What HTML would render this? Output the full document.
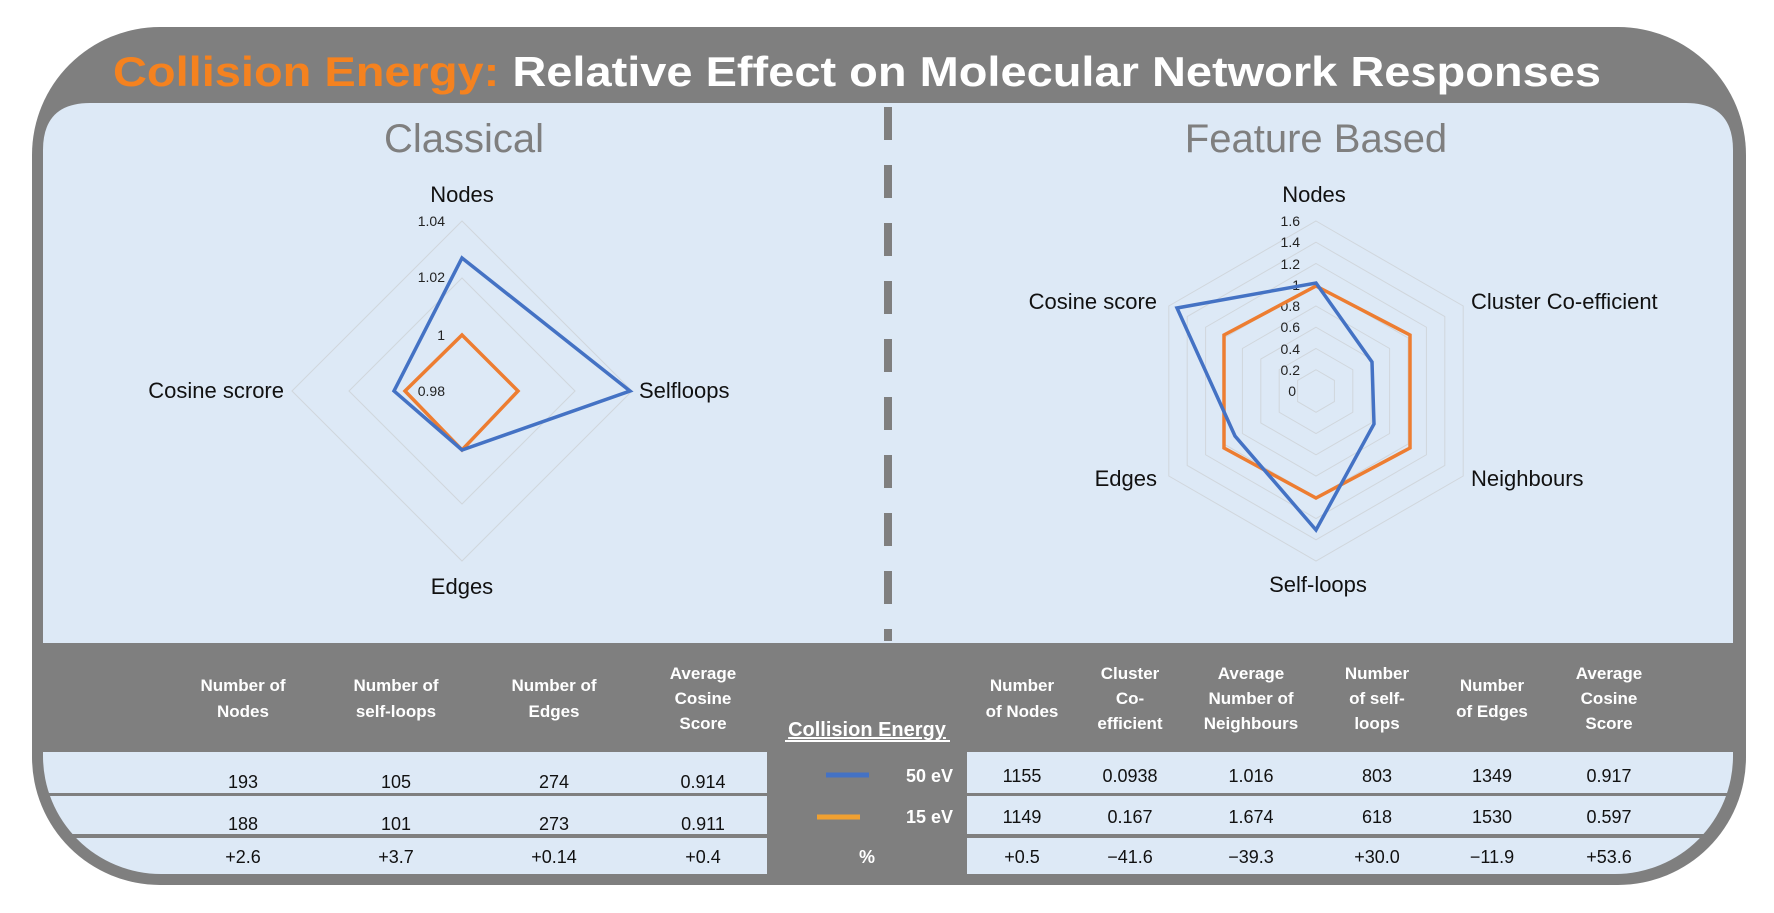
<!DOCTYPE html>
<html><head><meta charset="utf-8"><style>html,body{margin:0;padding:0;background:#fff}svg{display:block}</style></head>
<body>
<svg width="1774" height="913" viewBox="0 0 1774 913" xmlns="http://www.w3.org/2000/svg" font-family="'Liberation Sans', sans-serif">
<defs>
<clipPath id="inner"><rect x="43" y="500" width="1690" height="374" rx="118" ry="118"/></clipPath>
</defs>
<rect x="32" y="27" width="1714" height="858" rx="128" ry="128" fill="#7f7f7f"/>
<path d="M43,643 L43,150 Q43,103 90,103 L1686,103 Q1733,103 1733,150 L1733,643 Z" fill="#dde9f6"/>
<g clip-path="url(#inner)">
<rect x="43" y="752" width="724" height="41" fill="#dde9f6"/>
<rect x="43" y="796" width="724" height="38" fill="#dde9f6"/>
<rect x="43" y="838" width="724" height="36" fill="#dde9f6"/>
<rect x="967" y="752" width="770" height="41" fill="#dde9f6"/>
<rect x="967" y="796" width="770" height="38" fill="#dde9f6"/>
<rect x="967" y="838" width="770" height="36" fill="#dde9f6"/>
</g>
<text x="113" y="86" font-size="42" font-weight="bold" textLength="1488" lengthAdjust="spacingAndGlyphs"><tspan fill="#f5821f">Collision Energy:</tspan><tspan fill="#fff"> Relative Effect on Molecular Network Responses</tspan></text>
<line x1="888" y1="107" x2="888" y2="641" stroke="#7f7f7f" stroke-width="8" stroke-dasharray="33 25"/>
<text x="464" y="152" font-size="40" fill="#7f7f7f" text-anchor="middle">Classical</text>
<text x="1316" y="152" font-size="40" fill="#7f7f7f" text-anchor="middle">Feature Based</text>
<g fill="none" stroke="#d0d6dc" stroke-width="1">
<polygon points="462,334 519,391 462,448 405,391"/>
<polygon points="462,278 575,391 462,504 349,391"/>
<polygon points="462,221 632,391 462,561 292,391"/>
</g>
<g font-size="14" fill="#222" text-anchor="end">
<text x="445" y="226">1.04</text><text x="445" y="282">1.02</text><text x="445" y="340">1</text><text x="445" y="396">0.98</text>
</g>
<polygon points="462,335 518,391 462,450 405,391" fill="none" stroke="#ed7d31" stroke-width="3.5"/>
<polygon points="462,258 630,391 462,450 394,391" fill="none" stroke="#4472c4" stroke-width="3.5"/>
<g font-size="22" fill="#111">
<text x="462" y="202" text-anchor="middle">Nodes</text>
<text x="639" y="398">Selfloops</text>
<text x="462" y="594" text-anchor="middle">Edges</text>
<text x="284" y="398" text-anchor="end">Cosine scrore</text>
</g>
<g fill="none" stroke="#d0d6dc" stroke-width="1">
<polygon points="1316,369.75 1334.4,380.4 1334.4,401.6 1316,412.25 1297.6,401.6 1297.6,380.4"/>
<polygon points="1316,348.5 1352.8,369.75 1352.8,412.25 1316,433.5 1279.2,412.25 1279.2,369.75"/>
<polygon points="1316,327.25 1371.2,359.1 1371.2,422.9 1316,454.75 1260.8,422.9 1260.8,359.1"/>
<polygon points="1316,306 1389.6,348.5 1389.6,433.5 1316,476 1242.4,433.5 1242.4,348.5"/>
<polygon points="1316,284.75 1408,337.9 1408,444.1 1316,497.25 1224,444.1 1224,337.9"/>
<polygon points="1316,263.5 1426.4,327.25 1426.4,454.75 1316,518.5 1205.6,454.75 1205.6,327.25"/>
<polygon points="1316,242.25 1444.8,316.6 1444.8,465.4 1316,539.75 1187.2,465.4 1187.2,316.6"/>
<polygon points="1316,221 1463.2,306 1463.2,476 1316,561 1168.8,476 1168.8,306"/>
</g>
<g font-size="14" fill="#222" text-anchor="end">
<text x="1300" y="226">1.6</text><text x="1300" y="247">1.4</text><text x="1300" y="269">1.2</text><text x="1300" y="290">1</text><text x="1300" y="311">0.8</text><text x="1300" y="332">0.6</text><text x="1300" y="354">0.4</text><text x="1300" y="375">0.2</text><text x="1296" y="396">0</text>
</g>
<polygon points="1316,286 1410,335 1410,448 1316,498 1224,448 1224,335" fill="none" stroke="#ed7d31" stroke-width="3.5"/>
<polygon points="1316,283 1372,362 1374,424 1316,530 1235,436 1177,308" fill="none" stroke="#4472c4" stroke-width="3.5"/>
<g font-size="22" fill="#111">
<text x="1314" y="202" text-anchor="middle">Nodes</text>
<text x="1471" y="309">Cluster Co-efficient</text>
<text x="1471" y="486">Neighbours</text>
<text x="1318" y="592" text-anchor="middle">Self-loops</text>
<text x="1157" y="486" text-anchor="end">Edges</text>
<text x="1157" y="309" text-anchor="end">Cosine score</text>
</g>
<g font-size="17" font-weight="bold" fill="#fff" text-anchor="middle">
<text x="243" y="691">Number of</text><text x="243" y="717">Nodes</text>
<text x="396" y="691">Number of</text><text x="396" y="717">self-loops</text>
<text x="554" y="691">Number of</text><text x="554" y="717">Edges</text>
<text x="703" y="679">Average</text><text x="703" y="704">Cosine</text><text x="703" y="729">Score</text>
<text x="1022" y="691">Number</text><text x="1022" y="717">of Nodes</text>
<text x="1130" y="679">Cluster</text><text x="1130" y="704">Co-</text><text x="1130" y="729">efficient</text>
<text x="1251" y="679">Average</text><text x="1251" y="704">Number of</text><text x="1251" y="729">Neighbours</text>
<text x="1377" y="679">Number</text><text x="1377" y="704">of self-</text><text x="1377" y="729">loops</text>
<text x="1492" y="691">Number</text><text x="1492" y="717">of Edges</text>
<text x="1609" y="679">Average</text><text x="1609" y="704">Cosine</text><text x="1609" y="729">Score</text>
<text x="867" y="736" font-size="20" text-decoration="underline">Collision Energy</text>
</g>
<line x1="785" y1="741" x2="950" y2="741" stroke="#fff" stroke-width="2"/>
<line x1="826" y1="775" x2="869" y2="775" stroke="#4472c4" stroke-width="5"/>
<line x1="817" y1="817" x2="860" y2="817" stroke="#f0a030" stroke-width="5"/>
<g font-size="18" font-weight="bold" fill="#fff">
<text x="953" y="782" text-anchor="end">50 eV</text>
<text x="953" y="823" text-anchor="end">15 eV</text>
<text x="867" y="863" text-anchor="middle">%</text>
</g>
<g font-size="18" fill="#111" text-anchor="middle">
<text x="243" y="788">193</text><text x="396" y="788">105</text><text x="554" y="788">274</text><text x="703" y="788">0.914</text>
<text x="243" y="830">188</text><text x="396" y="830">101</text><text x="554" y="830">273</text><text x="703" y="830">0.911</text>
<text x="243" y="863">+2.6</text><text x="396" y="863">+3.7</text><text x="554" y="863">+0.14</text><text x="703" y="863">+0.4</text>
<text x="1022" y="782">1155</text><text x="1130" y="782">0.0938</text><text x="1251" y="782">1.016</text><text x="1377" y="782">803</text><text x="1492" y="782">1349</text><text x="1609" y="782">0.917</text>
<text x="1022" y="823">1149</text><text x="1130" y="823">0.167</text><text x="1251" y="823">1.674</text><text x="1377" y="823">618</text><text x="1492" y="823">1530</text><text x="1609" y="823">0.597</text>
<text x="1022" y="863">+0.5</text><text x="1130" y="863">−41.6</text><text x="1251" y="863">−39.3</text><text x="1377" y="863">+30.0</text><text x="1492" y="863">−11.9</text><text x="1609" y="863">+53.6</text>
</g>
</svg>
</body></html>
